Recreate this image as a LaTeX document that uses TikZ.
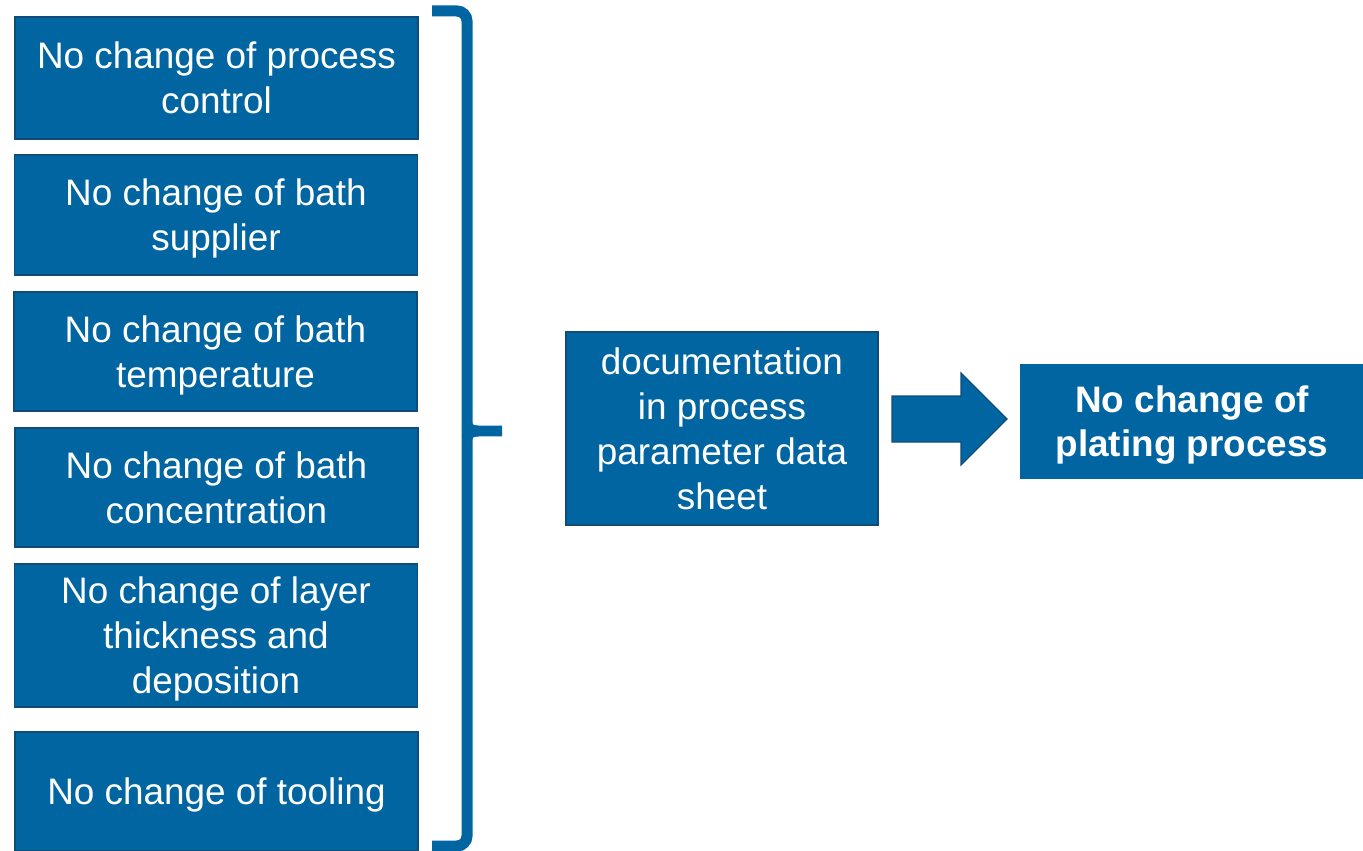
\documentclass[tikz,border=0pt]{standalone}
\usepackage{fontspec}
\setmainfont{Liberation Sans}
\definecolor{platblue}{RGB}{0,101,161}
\definecolor{platedge}{RGB}{16,76,120}
\begin{document}
\begin{tikzpicture}[x=0.02cm, y=-0.02cm,
    box/.style={draw=platedge, line width=0.7pt, fill=platblue, text=white, align=center,
        font=\fontsize{21pt}{25.6pt}\selectfont, inner sep=0pt, text depth=-0.06cm, minimum width=8.06cm},
    brace/.style={platblue, line width=0.22cm}]
\useasboundingbox (0,0) rectangle (1363,851);
% conditions
\node[box, minimum height=2.44cm] (control) at (216.5,78) {No change of process\\control};
\node[box, minimum height=2.40cm] (supplier) at (216,215) {No change of bath\\supplier};
\node[box, minimum height=2.38cm] (temp) at (215.5,351.5) {No change of bath\\temperature};
\node[box, minimum height=2.38cm] (conc) at (216.5,487.5) {No change of bath\\concentration};
\node[box, minimum height=2.86cm] (layer) at (216,635.5) {No change of layer\\thickness and\\deposition};
\node[box, minimum height=2.38cm] (tooling) at (216.5,791.5) {No change of tooling};
% brace
\draw[brace, rounded corners=0.2cm] (432,11) -- (467,11) -- (467,846) -- (432,846);
\draw[brace] (467,424) to[out=-90,in=180] (478,431) -- (502,431);
\draw[brace] (467,438) to[out=90,in=180] (478,431);
% documentation and result
\node[box, minimum width=6.24cm, minimum height=3.86cm] (doc) at (722,428.5) {documentation\\in process\\parameter data\\sheet};
\node[box, draw=platblue, minimum width=6.84cm, minimum height=2.26cm,
    font=\fontsize{21pt}{25pt}\selectfont\bfseries] (result) at (1192,421.5) {No change of\\plating process};
\draw[platedge, fill=platblue, line width=0.7pt] (892,396) -- (961,396) -- (961,373) -- (1007,419)
    -- (961,465) -- (961,442) -- (892,442) -- cycle;
\end{tikzpicture}
\end{document}
